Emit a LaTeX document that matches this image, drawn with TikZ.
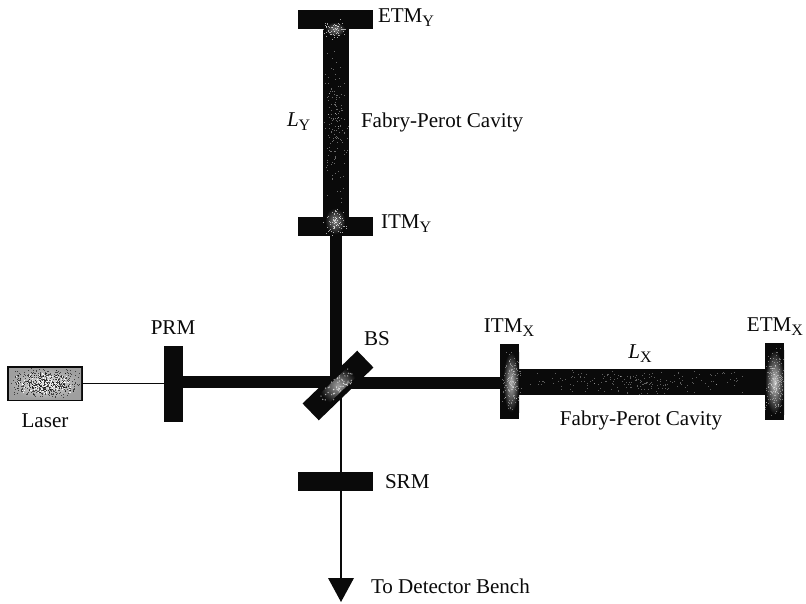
\documentclass[tikz,border=0pt]{standalone}
\usepackage{fontspec}
\setmainfont{Liberation Serif}
\usetikzlibrary{calc}
\definecolor{ink}{gray}{0.04}
\newcommand{\speckle}[7]{% x0 y0 x1 y1 count colour opacity
  \foreach \n in {1,...,#5}{
    \pgfmathsetmacro{\px}{#1+(#3-#1)*(rnd+rnd)/2}
    \pgfmathsetmacro{\py}{#2+(#4-#2)*(rnd+rnd)/2}
    \fill[#6,opacity=#7] (\px,\py) rectangle ++(1,1);
  }}
\newcommand{\lowsub}[1]{\raisebox{-3pt}{\fontsize{12pt}{12pt}\selectfont #1}}
\tikzset{
  x=0.75pt,y=-0.75pt,
  mirror/.style={draw=none,fill=ink,inner sep=0pt,outer sep=0pt,rectangle},
  hmirror/.style={mirror,minimum width=56.25pt,minimum height=14.25pt},
  vmirror/.style={mirror,minimum width=14.25pt,minimum height=56.5pt},
  lab/.style={inner sep=0pt,outer sep=0pt,font=\fontsize{15.8pt}{18pt}\selectfont,text=ink},
  beam/.style={draw=ink,line width=9pt},
  cavity/.style={draw=ink,line width=19.5pt},
  thinbeam/.style={draw=ink,line width=1.4pt},
  tip/.style={fill=ink,draw=none},
}
\begin{document}
\begin{tikzpicture}
\useasboundingbox (0,0) rectangle (806,603);
\fill[white] (0,0) rectangle (806,603);
\pgfmathsetseed{4711}

% optical elements
\node[hmirror] (etmy) at (335.5,19) {};
\node[hmirror] (itmy) at (335.5,226) {};
\node[vmirror] (prm) at (173.5,384) {};
\node[hmirror] (srm) at (335.5,481.5) {};
\node[vmirror,minimum height=56.25pt] (itmx) at (509.5,381.5) {};
\node[vmirror,minimum height=57.75pt] (etmx) at (774.5,381.5) {};
\node[mirror,minimum width=57pt,minimum height=26pt] (laser) at (45,383.5) {};
\coordinate (bsc) at (338,385.5);
\coordinate (det) at (341,579);

% beams
\draw[cavity] (etmy.south) -- (itmy.north);
\draw[beam] (itmy.south) -- (itmy.south |- bsc);
\draw[beam] ([yshift=1.5pt]prm.east) -- ([yshift=1.5pt]prm.east -| bsc);
\draw[beam] (bsc |- 0,383) -- (itmx.west |- 0,383);
\draw[thinbeam] (laser.east) -- (laser.east -| prm.west);
\draw[thinbeam] (det |- bsc) -- (det);
\draw[cavity] (itmx.east |- 0,382) -- (etmx.west |- 0,382);
\node[hmirror] at (srm) {};

% beam splitter
\node[mirror,minimum width=57pt,minimum height=17.5pt,rotate=44] (bs) at (bsc) {};
\shade[inner color=gray!75,outer color=ink,rotate around={44:(bsc)}]
  (318,379) rectangle (358,392);
\begin{scope}[rotate around={44:(bsc)}]
  \speckle{316}{377}{360}{394}{60}{white}{0.6}
\end{scope}

% laser interior
\shade[inner color=gray!25,outer color=gray!75] (9,368) rectangle (81,399);
\speckle{9}{368}{80}{398}{650}{ink}{0.65}
\speckle{14}{372}{76}{394}{160}{white}{0.9}

% mirror glows and speckle
\shade[inner color=gray!60,outer color=ink] (503,352) rectangle (519,412);
\shade[inner color=gray!45,outer color=ink] (765,350) rectangle (784,414);
\speckle{500}{346}{522}{417}{130}{white}{0.4}
\speckle{764}{346}{784}{418}{170}{white}{0.4}
\shade[inner color=gray!70,outer color=ink,opacity=0.8] (325,22) rectangle (345,36);
\shade[inner color=gray!70,outer color=ink,opacity=0.8] (325,208) rectangle (345,234);
\speckle{322}{18}{348}{40}{60}{white}{0.65}
\speckle{322}{206}{348}{236}{70}{white}{0.65}
\speckle{322}{40}{348}{206}{150}{white}{0.4}
\speckle{515}{369}{770}{395}{200}{white}{0.35}

% arrowhead
\fill[tip] (328,578) -- (354,578) -- (341,602) -- cycle;

% labels
\node[lab,anchor=west] (letmy) at (378,18) {ETM\lowsub{Y}};
\node[lab,anchor=west] (litmy) at (381,224) {ITM\lowsub{Y}};
\node[lab,anchor=west] (lly) at (287,122) {\textit{L}\lowsub{Y}};
\node[lab,anchor=west] (lfpy) at (361,122) {Fabry-Perot Cavity};
\node[lab,anchor=center] (lprm) at (173,328) {PRM};
\node[lab,anchor=center] (lbs) at (377,339) {BS};
\node[lab,anchor=center] (llaser) at (45,421) {Laser};
\node[lab,anchor=west] (lsrm) at (385,482) {SRM};
\node[lab,anchor=west] (ldet) at (371,586) {To Detector Bench};
\node[lab,anchor=center] (litmx) at (509,328) {ITM\lowsub{X}};
\node[lab,anchor=center] (letmx) at (775,327) {ETM\lowsub{X}};
\node[lab,anchor=center] (llx) at (640,354) {\textit{L}\lowsub{X}};
\node[lab,anchor=center] (lfpx) at (641,420) {Fabry-Perot Cavity};
\end{tikzpicture}
\end{document}
